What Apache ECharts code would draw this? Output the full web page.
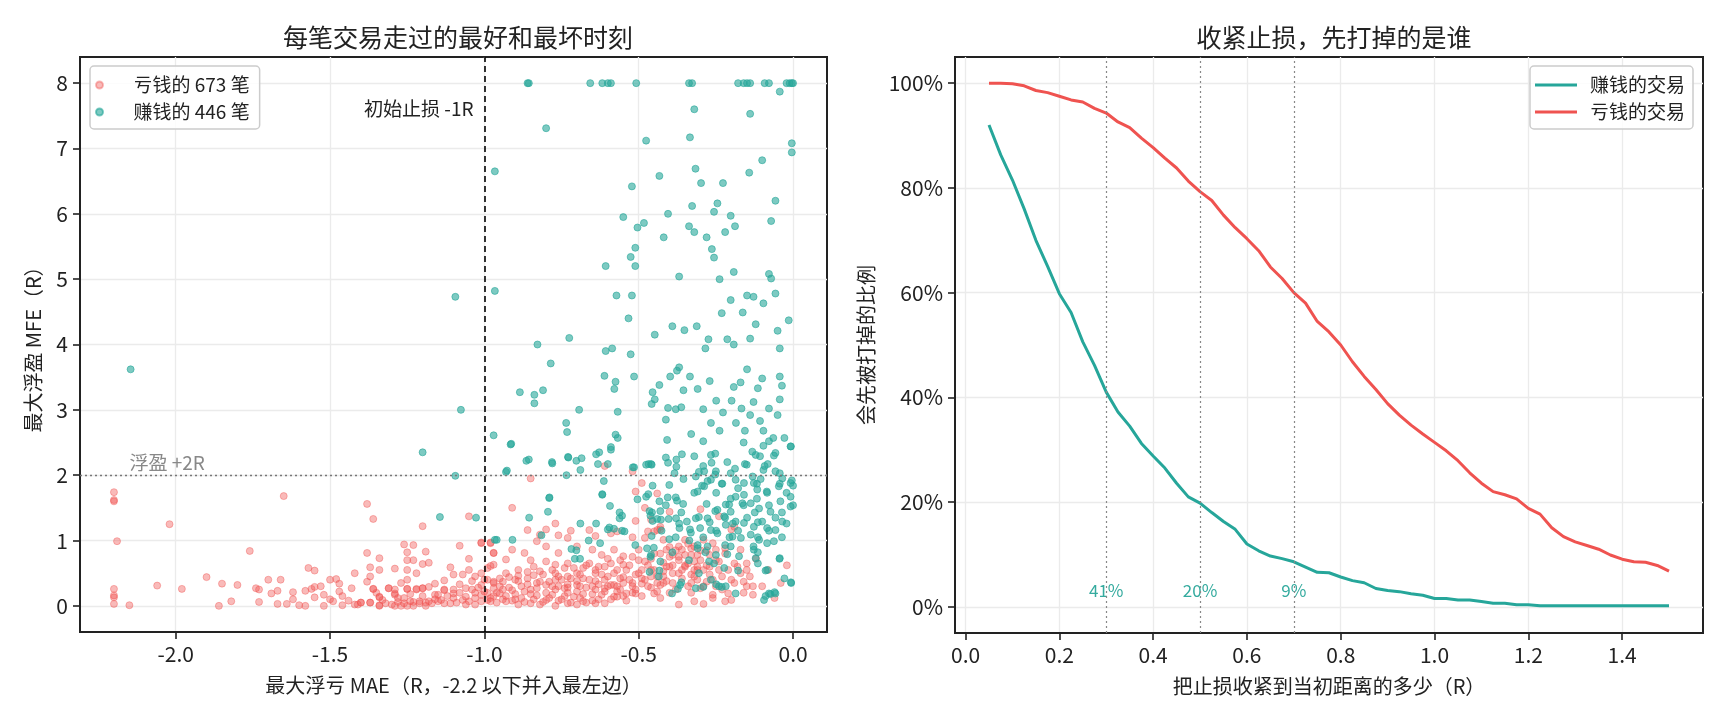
<!DOCTYPE html>
<html>
<head>
<meta charset="utf-8">
<script src="https://cdn.jsdelivr.net/npm/echarts@6/dist/echarts.min.js"></script>
<style>
html,body{margin:0;padding:0;background:#fff;}
#c{width:1725px;height:720px;}
</style>
</head>
<body>
<div id="c"></div>
<script>
// ---------- data ----------
const lossCount = 673;
const winCount = 446;

// losing trades: [MAE (R), MFE (R)]
const lossPoints = [
[-2.2,1.74],[-2.2,1.62],[-2.2,1.6],[-2.19,0.99],[-2.2,0.26],[-2.2,0.13],[-2.2,0.03],[-2.2,0.16],[-2.15,0.01],[-2.02,1.25],[-2.06,0.31],[-1.98,0.26],[-1.9,0.44],[-1.85,0.34],[-1.86,0.0],[-1.82,0.07],[-1.8,0.32],[-1.76,0.84],[-1.74,0.27],[-1.73,0.25],[-1.73,0.06],[-1.7,0.4],[-1.69,0.19],[-1.67,0.23],[-1.66,0.4],[-1.67,0.03],[-1.65,1.68],[-1.64,0.03],[-1.62,0.21],[-1.6,0.01],[-1.58,0.23],[-1.58,0.0],[-1.57,0.58],[-1.55,0.54],[-1.56,0.26],[-1.55,0.29],[-1.55,0.13],[-1.52,0.17],[-1.52,0.0],[-1.5,0.4],[-1.49,0.07],[-1.48,0.41],[-1.47,0.34],[-1.47,0.22],[-1.46,0.15],[-1.46,0.01],[-1.43,0.27],[-1.42,0.5],[-1.41,0.02],[-1.4,0.05],[-1.38,1.56],[-1.38,0.81],[-1.37,0.59],[-1.37,0.45],[-1.38,0.37],[-1.36,1.33],[-1.36,0.26],[-1.37,0.05],[-1.34,0.73],[-1.34,0.55],[-1.34,0.13],[-1.34,0.01],[-1.31,0.27],[-1.29,0.57],[-1.29,0.19],[-1.29,0.0],[-1.26,0.94],[-1.25,0.82],[-1.25,0.7],[-1.23,0.7],[-1.23,0.93],[-1.2,1.22],[-1.2,0.64],[-1.19,0.83],[-1.18,0.66],[-1.25,0.55],[-1.25,0.4],[-1.22,0.5],[-1.25,0.26],[-1.22,0.26],[-1.2,0.27],[-1.16,0.34],[-1.13,0.39],[-1.11,0.59],[-1.1,0.48],[-1.26,0.12],[-1.23,0.06],[-1.21,0.07],[-1.18,0.07],[-1.15,0.17],[-1.13,0.24],[-1.27,0.0],[-1.23,0.0],[-1.19,0.0],[-1.14,0.09],[-1.1,0.19],
[-1.05,1.37],[-1.08,0.92],[-1.05,0.72],[-1.05,0.55],[-1.07,0.48],[-1.03,0.45],[-1.01,0.96],[-1.01,0.5],[-1.0,0.4],[-1.01,0.32],[-0.98,0.96],[-0.97,0.81],[-0.98,0.61],[-0.99,0.58],[-0.97,0.37],[-0.97,0.27],[-1.1,0.25],[-1.08,0.2],[-1.06,0.27],[-1.04,0.25],[-1.03,0.2],[-1.01,0.17],[-1.1,0.12],[-1.07,0.09],[-1.05,0.07],[-1.03,0.12],[-1.01,0.07],[-0.98,0.07],[-0.96,0.2],[-1.11,0.04],[-1.06,0.02],[-1.03,0.02],[-1.29,0.17],[-1.28,0.12],[-1.26,0.04],[-1.24,0.07],[-1.21,0.04],[-1.19,0.05],[-1.17,0.04],[-1.15,0.07],[-1.3,0.02],[-1.25,0.0],[-1.29,0.25],[-1.27,0.35],[-1.25,0.26],[-1.22,0.25],[-1.2,0.27],[-1.18,0.29],[-1.16,0.17],[-1.13,0.25],[-1.12,0.15],[-1.13,0.04],[-1.42,0.02],[-1.4,0.05],[-1.37,0.05],[-1.34,0.14],[-1.33,0.09],[-1.34,0.0],[-1.31,0.27],[-1.36,0.26],
[-0.61,2.14],[-0.52,2.06],[-0.85,1.95],[-0.49,1.88],[-0.51,1.75],[-0.44,1.72],[-0.91,1.5],[-0.48,1.5],[-0.4,1.44],[-0.3,1.48],[-0.51,1.3],[-0.77,1.26],[-0.8,1.17],[-0.86,1.16],[-0.72,1.15],[-0.66,1.16],[-0.76,1.08],[-0.82,1.09],[-0.73,1.04],[-0.64,1.07],[-0.59,1.11],[-0.57,1.14],[-0.52,1.05],[-0.48,1.04],[-0.45,1.14],[-0.43,1.17],[-0.24,1.37],[-0.2,1.17],[-0.98,0.97],[-1.01,0.97],[-0.91,0.86],[-0.87,0.81],[-0.83,0.99],[-0.8,0.91],[-0.76,0.81],[-0.7,0.91],[-0.65,0.86],[-0.62,0.78],[-0.58,0.86],[-0.55,0.76],[-0.5,0.86],[-0.97,0.81],[-0.97,0.63],[-0.93,0.71],[-0.85,0.7],[-0.8,0.68],[-0.93,0.5],[-0.89,0.55],[-0.84,0.6],[-0.77,0.63],[-0.73,0.65],[-0.68,0.58],[-0.63,0.6],[-0.59,0.65],[-0.55,0.63],[-0.99,0.4],[-0.94,0.37],[-0.9,0.4],[-0.86,0.42],[-0.82,0.37],[-0.77,0.4],[-0.73,0.45],[-0.69,0.48],[-0.64,0.5],[-0.6,0.45],[-0.56,0.42],[-1.0,0.22],[-0.95,0.19],[-0.91,0.24],[-0.87,0.22],[-0.83,0.27],[-0.78,0.3],[-0.74,0.27],[-0.7,0.32],[-0.65,0.3],[-0.61,0.27],[-0.57,0.3],[-0.52,0.35],[-0.99,0.09],[-0.93,0.07],[-0.89,0.02],[-0.85,0.04],[-0.8,0.09],[-0.77,0.0],[-0.73,0.04],[-0.7,0.02],[-0.68,0.07],[-0.64,0.04],[-0.61,0.04],[-0.57,0.14],[-0.54,0.19],[-0.51,0.19],[-0.49,0.34],[-0.45,0.19],[-0.44,0.22],[-0.42,0.35],[-0.39,0.35],[-0.37,0.02],[-0.46,0.55],[-0.42,0.53],[-0.4,0.6],[-0.37,0.7],[-0.36,0.86],[-0.41,0.86],[-0.39,0.78],[-0.35,0.6],[-0.33,0.48],[-0.32,0.45],[-0.31,0.6],[-0.29,0.55],[-0.27,0.78],[-0.26,0.96],[-0.25,0.86],[-0.33,0.78],[-0.31,0.78],[-0.26,0.17],[-0.32,0.07],[-0.29,0.03],[-0.22,0.07],[-0.2,0.09],[-0.21,0.19],[-0.23,0.45],[-0.19,0.65],[-0.16,0.37],[-0.15,0.3],[-0.15,0.65],[-0.15,0.55],[-0.13,0.17],[-0.22,0.88],[-0.17,0.86],[-0.19,1.21],[-0.44,1.16],[-0.47,1.14],[-0.46,1.32],[-0.42,1.01],[-0.37,0.91],[-0.35,1.01],[-0.32,0.91],[-0.29,1.01],[-0.43,1.21],[-0.33,0.35],[-0.3,0.27],[-0.28,0.37],[-0.25,0.3],
[-0.98,0.12],[-0.96,0.05],[-0.95,0.3],[-0.93,0.15],[-0.92,0.44],[-0.9,0.1],[-0.88,0.3],[-0.87,0.06],[-0.86,0.52],[-0.85,0.18],[-0.83,0.35],[-0.82,0.02],[-0.81,0.48],[-0.8,0.2],[-0.79,0.12],[-0.78,0.55],[-0.77,0.25],[-0.76,0.08],[-0.75,0.4],[-0.74,0.15],[-0.73,0.33],[-0.72,0.05],[-0.71,0.58],[-0.7,0.22],[-0.69,0.12],[-0.68,0.42],[-0.67,0.28],[-0.66,0.65],[-0.65,0.18],[-0.64,0.38],[-0.63,0.1],[-0.62,0.48],[-0.61,0.22],[-0.6,0.72],[-0.59,0.32],[-0.58,0.14],[-0.57,0.55],[-0.56,0.25],[-0.55,0.44],[-0.54,0.08],[-0.53,0.62],[-0.52,0.3],[-0.51,0.48],[-0.5,0.7],[-0.49,0.15],[-0.48,0.4],[-0.47,0.62],[-0.46,0.28],[-0.45,0.8],[-0.44,0.45],[-0.43,0.12],[-0.42,0.66],[-0.41,0.38],[-0.4,0.9],[-0.39,0.5],[-0.38,0.25],[-0.37,0.75],[-0.36,0.42],[-0.35,0.62],[-0.34,0.95],[-0.33,0.2],[-0.32,0.68],[-0.31,0.4],[-0.3,0.85],[-0.29,0.3],[-0.28,0.62],[-0.27,0.48],[-0.26,0.12],[-0.25,0.7],[-0.24,0.55],[-0.22,0.8],[-0.2,0.4],[-0.18,0.6],[-0.16,0.2],[-0.14,0.45],[-0.12,0.72],[-0.1,0.3],[-0.08,0.55],[-0.06,0.12],[-0.04,0.35],[-0.02,0.62],
[-0.99,0.2],[-0.97,0.35],[-0.94,0.25],[-0.91,0.08],[-0.89,0.38],[-0.84,0.1],[-0.8,0.32],[-0.76,0.45],[-0.73,0.2],[-0.7,0.38],[-0.67,0.05],[-0.64,0.25],[-0.61,0.4],[-0.58,0.32],[-0.55,0.15],[-0.52,0.2],[-0.49,0.55],[-0.46,0.45],[-0.43,0.32],[-0.4,0.2],[-0.37,0.5],[-0.34,0.3],[-0.31,0.55],
[-0.97,0.15],[-0.95,0.42],[-0.94,0.1],[-0.92,0.28],[-0.9,0.18],[-0.89,0.46],[-0.88,0.12],[-0.86,0.33],[-0.85,0.25],[-0.84,0.47],[-0.83,0.16],[-0.82,0.53],[-0.81,0.06],[-0.79,0.37],[-0.78,0.17],[-0.77,0.5],[-0.76,0.3],[-0.75,0.1],[-0.74,0.58],[-0.73,0.28],[-0.72,0.42],[-0.71,0.14],[-0.7,0.5],[-0.69,0.3],[-0.68,0.18],[-0.67,0.62],[-0.66,0.4],[-0.65,0.08],[-0.64,0.55],[-0.63,0.33],[-0.62,0.17],[-0.61,0.6],[-0.6,0.3],[-0.59,0.1],[-0.58,0.5],[-0.57,0.22],[-0.56,0.7],[-0.55,0.35],[-0.54,0.55],[-0.53,0.4],[-0.52,0.75],[-0.51,0.25],[-0.5,0.5],[-0.49,0.42],[-0.48,0.68],[-0.47,0.3],[-0.46,0.72],[-0.45,0.55],[-0.44,0.35],[-0.43,0.8],[-0.42,0.45],[-0.41,0.6],[-0.4,0.75],[-0.39,0.62],[-0.38,0.85],[-0.36,0.55],[-0.35,0.78],[-0.34,0.65],[-0.33,0.88],[-0.32,0.55],[-0.3,0.7],[-0.28,0.85],[-0.27,0.6],[-0.26,0.4],[-0.24,0.68],[-0.23,0.25],[-0.21,0.55],[-0.19,0.35],[-0.17,0.5],[-0.13,0.3],[-1.08,0.33],[-1.06,0.14],[-1.04,0.38],[-1.02,0.28],[-1.09,0.05],[-1.16,0.1],[-1.2,0.15],[-1.24,0.18],[-1.28,0.06],[-1.32,0.04],[-1.35,0.2],[-1.44,0.08],[-1.5,0.1],[-1.53,0.3],[-1.62,0.1]
];

// winning trades: [MAE (R), MFE (R)]
const winPoints = [
[-0.86,8],[-0.856,8],[-0.657,8],[-0.618,8],[-0.6,8],[-0.59,8],[-0.508,8],[-0.337,8],[-0.327,8],[-0.178,8],[-0.16,8],[-0.149,8],[-0.139,8],[-0.092,8],[-0.078,8],[-0.021,8],[-0.011,8],[-0.004,8],[0,8],
[-0.043,7.87],[-0.32,7.6],[-0.139,7.53],[-0.8,7.31],[-0.476,7.12],[-0.334,7.17],[-0.004,7.08],[-0.004,6.94],[-0.1,6.82],[-0.966,6.65],[-0.316,6.69],[-0.142,6.63],[-0.433,6.58],[-0.298,6.47],[-0.227,6.47],[-0.522,6.42],[-0.057,6.2],[-0.245,6.16],[-0.327,6.12],[-0.405,6.0],[-0.256,6.03],[-0.202,5.97],[-0.55,5.95],[-0.483,5.86],[-0.504,5.79],[-0.337,5.81],[-0.188,5.81],[-0.32,5.72],[-0.071,5.89],[-0.22,5.72],[-0.419,5.64],[-0.28,5.64],[-0.511,5.48],[-0.263,5.46],[-0.256,5.33],[-0.526,5.34],[-0.607,5.2],[-0.511,5.2],[-0.369,5.04],[-0.238,5.0],[-0.192,5.11],[-0.078,5.08],[-0.071,5.01],
[-1.094,4.73],[-0.966,4.82],[-0.572,4.75],[-0.522,4.75],[-0.149,4.75],[-0.128,4.73],[-0.057,4.78],[-0.202,4.68],[-0.096,4.63],[-0.533,4.4],[-0.231,4.48],[-0.163,4.49],[-0.014,4.37],[-0.391,4.28],[-0.352,4.22],[-0.312,4.28],[-0.121,4.31],[-0.448,4.15],[-0.05,4.21],[-0.274,4.08],[-0.213,4.08],[-0.139,4.09],[-0.725,4.1],[-0.828,4.0],[-0.586,3.94],[-0.284,3.94],[-0.192,4.0],[-0.043,3.94],[-0.607,3.9],[-0.526,3.85],[-0.785,3.71],[-0.369,3.65],[-0.376,3.6],[-0.149,3.62],[-2.146,3.62],[-0.611,3.52],[-0.515,3.51],[-0.398,3.51],[-0.334,3.51],[-0.575,3.43],[-0.433,3.38],[-0.27,3.44],[-0.17,3.42],[-0.1,3.48],[-0.043,3.51],[-0.192,3.35],[-0.114,3.33],[-0.036,3.37],[-0.579,3.32],[-0.455,3.27],[-0.355,3.3],[-0.309,3.32],[-0.885,3.27],[-0.81,3.3],[-0.448,3.16],[-0.838,3.23],[-0.249,3.14],[-0.199,3.14],[-0.128,3.12],[-0.043,3.16],[-0.838,3.1],[-0.458,3.09],[-0.362,3.04],[-0.38,3.01],[-0.405,3.03],[-1.076,3.0],[-0.693,3.0],[-0.568,2.97],[-0.291,3.01],[-0.167,3.02],[-0.078,3.02],[-0.227,2.96],[-0.139,2.92],[-0.05,2.92],[-0.412,2.85],[-0.107,2.83],[-0.735,2.8],[-0.266,2.8],[-0.185,2.8],[-0.732,2.66],[-0.33,2.63],[-0.238,2.68],[-0.156,2.68],[-0.096,2.68],[-0.97,2.61],[-0.575,2.62],[-0.568,2.57],[-0.064,2.57],[-0.028,2.57],[-0.408,2.54],[-0.291,2.52],[-0.16,2.5],[-0.078,2.52],[-0.913,2.48],[-0.007,2.44],[-0.59,2.43],[-0.096,2.45],[-0.628,2.35],[-1.2,2.35],[-0.252,2.33],[-0.121,2.31],[-0.057,2.34],[-0.728,2.27],[-0.685,2.26],[-0.412,2.27],[-0.32,2.29],[-0.781,2.2],[-0.856,2.24],[-0.6,2.17],[-0.476,2.16],[-0.458,2.16],[-0.405,2.19],[-0.291,2.14],[-0.213,2.2],[-0.156,2.17],[-0.082,2.17],[-0.515,2.12],[-0.188,2.1],[-0.096,2.08],[-0.305,2.05],[-0.384,2.03],[-0.927,2.07],[-1.094,1.99],[-0.252,2.01],[-0.131,1.98],[-0.043,2.03],
[-0.004,1.92],[-0.355,1.94],[-0.277,1.91],[-0.231,1.87],[-0.117,1.87],[-0.043,1.87],[0,1.84],[-0.455,1.84],[-0.401,1.85],[-0.295,1.84],[-0.178,1.8],[-0.085,1.75],[-0.021,1.73],[-0.32,1.73],[-0.249,1.73],[-0.618,1.71],[-0.469,1.71],[-0.789,1.66],[-0.504,1.63],[-0.38,1.66],[-0.202,1.64],[-0.117,1.64],[0,1.54],[-0.412,1.54],[-0.28,1.56],[-0.16,1.54],[-0.078,1.54],[-0.465,1.45],[-0.362,1.43],[-0.252,1.45],[-0.124,1.43],[-0.036,1.43],[-0.554,1.38],[-0.462,1.38],[-0.44,1.33],[-0.305,1.36],[-0.22,1.35],[-0.149,1.35],[-0.057,1.35],[-1.144,1.36],[-1.027,1.35],[-0.369,1.26],[-0.27,1.28],[-0.195,1.26],[-0.114,1.28],[-0.021,1.26],[-0.6,1.17],[-0.554,1.15],[-0.426,1.15],[-0.334,1.17],[-0.249,1.15],[-0.178,1.15],[-0.078,1.15],[-0.966,1.01],[-0.909,1.01],[-0.458,1.07],[-0.38,1.05],[-0.291,1.05],[-0.206,1.05],[-0.114,1.05],[-0.036,1.05],[-0.625,0.96],[-0.511,0.93],[-0.451,0.89],[-0.309,0.93],[-0.22,0.93],[-0.128,0.91],[-0.391,0.82],[-0.284,0.82],[-0.213,0.79],[-0.114,0.82],[-0.462,0.75],[-0.337,0.7],[-0.043,0.73],[-0.256,0.65],[-0.114,0.65],[-0.433,0.54],[-0.305,0.5],[-0.178,0.54],[-0.089,0.54],[-0.362,0.36],[-0.249,0.33],[-0.231,0.29],[-0.007,0.36],[-0.078,0.19],[-0.06,0.21],[-0.089,0.15],[-0.291,0.29],[-0.373,0.26],
[-0.915,2.47],[-0.864,2.22],[-0.78,2.18],[-0.729,2.28],[-0.702,2.22],[-0.689,2.08],[-0.93,2.05],[-0.734,2.0],[-0.638,2.32],[-0.632,2.17],[-0.613,1.91],[-0.618,1.7],[-0.593,1.53],[-0.562,1.43],[-0.562,1.34],[-0.79,1.65],[-0.794,1.44],[-0.855,1.35],[-0.96,1.01],[-0.815,1.08],[-0.689,1.26],[-0.638,1.26],[-0.662,1.0],[-0.718,0.87],[-0.702,0.85],[-0.707,0.72],[-0.69,0.72],[-0.595,1.2],[-0.58,1.18],[-0.546,1.14],[-0.59,2.39],[-0.519,2.12],[-0.468,2.17],[-0.46,2.17],[-0.378,2.24],[-0.378,2.13],[-0.36,2.32],
[-0.476,1.67],[-0.433,1.6],[-0.406,1.66],[-0.376,1.61],[-0.356,1.56],[-0.457,1.43],[-0.43,1.45],[-0.455,1.3],[-0.428,1.32],[-0.403,1.33],[-0.379,1.34],[-0.368,1.19],[-0.344,1.29],[-0.315,1.34],[-0.277,1.34],[-0.331,1.12],[-0.301,1.19],[-0.266,1.16],[-0.245,1.11],[-0.223,1.37],[-0.202,1.44],[-0.218,1.55],[-0.245,1.47],[-0.309,1.75],[-0.288,1.83],[-0.266,1.93],[-0.288,2.06],[-0.25,2.06],[-0.229,1.87],[-0.186,1.93],[-0.159,1.88],[-0.127,1.88],[-0.105,1.94],[-0.057,2.06],[-0.035,1.95],[-0.008,1.88],[-0.046,1.83],[-0.084,1.73],[-0.116,1.78],[-0.159,1.7],[-0.186,1.67],[-0.207,1.55],[-0.164,1.57],[-0.137,1.57],[-0.11,1.49],[-0.073,1.44],[-0.041,1.6],[-0.008,1.67],[-0.008,1.52],[-0.035,1.29],[-0.057,1.16],[-0.084,1.19],[-0.1,1.29],[-0.127,1.21],[-0.159,1.27],[-0.186,1.29],[-0.218,1.24],[-0.196,1.06],[-0.169,1.04],[-0.137,1.09],[-0.11,1.01],[-0.084,0.96],[-0.062,0.99],[-0.127,0.86],[-0.121,0.73],[-0.175,0.76],[-0.202,0.91],[-0.25,0.78],[-0.272,0.68],[-0.223,0.58],[-0.266,0.4],[-0.24,0.3],[-0.218,0.3],[-0.186,0.19],[-0.094,0.09],[-0.073,0.18],[-0.057,0.19],[-0.028,0.42],[-0.006,0.35],[-0.044,0.72],[-0.084,0.55],[-0.315,0.27],[-0.366,0.32],[-0.392,0.19],[-0.435,0.45],[-0.465,0.52],[-0.46,0.78],[-0.473,0.88],[-0.43,0.68],[-0.401,1.02],[-0.336,1.0],[-0.309,0.88],[-0.277,0.91],[-0.315,1.98],[-0.202,2.03],[-0.15,2.16],[-0.132,2.36],[-0.107,2.29],[-0.092,2.14],[-0.062,2.3],[-0.008,2.44],[-0.266,2.31],[-0.264,2.19]
];

// right panel: stop tightened to this fraction of original distance (R)
const tightenR = [0.05,0.075,0.1,0.125,0.15,0.175,0.2,0.225,0.25,0.275,0.3,0.325,0.35,0.375,0.4,0.425,0.45,0.475,0.5,0.525,0.55,0.575,0.6,0.625,0.65,0.675,0.7,0.725,0.75,0.775,0.8,0.825,0.85,0.875,0.9,0.925,0.95,0.975,1.0,1.025,1.05,1.075,1.1,1.125,1.15,1.175,1.2,1.225,1.25,1.275,1.3,1.325,1.35,1.375,1.4,1.425,1.45,1.475,1.5];
const winStopped = [0.92,0.863,0.815,0.76,0.7,0.65,0.598,0.562,0.506,0.461,0.41,0.372,0.345,0.312,0.288,0.265,0.236,0.21,0.198,0.18,0.163,0.148,0.12,0.107,0.097,0.092,0.086,0.076,0.066,0.065,0.057,0.05,0.046,0.035,0.031,0.029,0.025,0.022,0.016,0.016,0.013,0.013,0.01,0.007,0.007,0.004,0.004,0.002,0.002,0.002,0.002,0.002,0.002,0.002,0.002,0.002,0.002,0.002,0.002];
const lossStopped = [1.0,1.0,0.999,0.995,0.986,0.982,0.975,0.968,0.964,0.952,0.943,0.926,0.915,0.895,0.877,0.857,0.838,0.813,0.793,0.776,0.748,0.724,0.703,0.68,0.649,0.627,0.6,0.58,0.545,0.525,0.5,0.468,0.44,0.415,0.388,0.366,0.347,0.33,0.314,0.298,0.279,0.256,0.236,0.22,0.214,0.206,0.188,0.177,0.151,0.134,0.124,0.117,0.11,0.099,0.091,0.086,0.085,0.079,0.068];
const markStops = [0.3, 0.5, 0.7];

// tick labels
const leftXTicks = [-2.0,-1.5,-1.0,-0.5,0.0];
const leftYTicks = [0,1,2,3,4,5,6,7,8];
const rightXTicks = [0.0,0.2,0.4,0.6,0.8,1.0,1.2,1.4];
const rightYTicks = [0,0.2,0.4,0.6,0.8,1.0];

// ---------- chart ----------
const FONT = '"Noto Sans CJK JP","Noto Sans CJK SC","Noto Sans",sans-serif';
const INK = '#222222';
const RED = '#ef5350';
const TEAL = '#26a69a';

const chart = echarts.init(document.getElementById('c'), null, {renderer: 'canvas'});

function axisCommon(ticks, fmt) {
  return {
    type: 'value',
    axisLine: {show: true, onZero: false, lineStyle: {color: INK, width: 2}},
    axisTick: {show: true, length: 7, inside: false, customValues: ticks, lineStyle: {color: INK, width: 1.6}},
    axisLabel: {customValues: ticks, formatter: fmt, fontSize: 21, color: INK, fontFamily: FONT, margin: 12},
    splitLine: {show: true, lineStyle: {color: '#ebebeb', width: 1.3}},
    nameLocation: 'middle',
    nameTextStyle: {fontSize: 20, color: INK, fontFamily: FONT}
  };
}

const winSeriesName = '赚钱的 ' + winCount + ' 笔';
const lossSeriesName = '亏钱的 ' + lossCount + ' 笔';

const option = {
  animation: false,
  backgroundColor: '#ffffff',
  textStyle: {fontFamily: FONT},
  title: [
    {text: '每笔交易走过的最好和最坏时刻', left: 453, top: 20, textAlign: 'center',
     textStyle: {fontSize: 25, fontWeight: 'normal', color: INK, fontFamily: FONT}},
    {text: '收紧止损，先打掉的是谁', left: 1329, top: 20, textAlign: 'center',
     textStyle: {fontSize: 25, fontWeight: 'normal', color: INK, fontFamily: FONT}}
  ],
  legend: [
    {data: [lossSeriesName, winSeriesName], orient: 'vertical', left: 90, top: 66,
     icon: 'circle', itemWidth: 42, itemHeight: 7, itemGap: 7, padding: [9, 10, 7, 5],
     borderColor: '#cccccc', borderWidth: 1.5, borderRadius: 4, backgroundColor: 'rgba(255,255,255,0.85)',
     selectedMode: false,
     textStyle: {fontSize: 19, color: INK, fontFamily: FONT, lineHeight: 20, padding: [0, 0, 0, 8]}},
    {data: ['赚钱的交易', '亏钱的交易'], orient: 'vertical', right: 32, top: 66,
     icon: 'rect', itemWidth: 42, itemHeight: 3, itemGap: 7, padding: [9, 8, 7, 5],
     borderColor: '#cccccc', borderWidth: 1.5, borderRadius: 4, backgroundColor: 'rgba(255,255,255,0.85)',
     selectedMode: false,
     textStyle: {fontSize: 19, color: INK, fontFamily: FONT, lineHeight: 20, padding: [0, 0, 0, 8]}}
  ],
  grid: [
    {left: 80, top: 57, width: 747, height: 575, show: true, borderColor: INK, borderWidth: 2, backgroundColor: 'transparent'},
    {left: 955, top: 57, width: 748, height: 576, show: true, borderColor: INK, borderWidth: 2, backgroundColor: 'transparent'}
  ],
  xAxis: [
    Object.assign(axisCommon(leftXTicks, v => v.toFixed(1)), {
      gridIndex: 0, min: -2.31, max: 0.11,
      name: '最大浮亏 MAE（R，-2.2 以下并入最左边）', nameGap: 43}),
    Object.assign(axisCommon(rightXTicks, v => v.toFixed(1)), {
      gridIndex: 1, min: -0.0225, max: 1.5725,
      name: '把止损收紧到当初距离的多少（R）', nameGap: 43})
  ],
  yAxis: [
    Object.assign(axisCommon(leftYTicks, v => String(v)), {
      gridIndex: 0, min: -0.4, max: 8.4,
      name: '最大浮盈 MFE（R）', nameGap: 37}),
    Object.assign(axisCommon(rightYTicks, v => Math.round(v * 100) + '%'), {
      gridIndex: 1, min: -0.05, max: 1.05,
      name: '会先被打掉的比例', nameGap: 79})
  ],
  series: [
    {
      name: lossSeriesName, type: 'scatter', xAxisIndex: 0, yAxisIndex: 0,
      data: lossPoints, symbolSize: 7,
      itemStyle: {color: RED, opacity: 0.4, borderColor: RED, borderWidth: 1},
      emphasis: {disabled: true},
      markLine: {
        silent: true, symbol: ['none', 'none'], animation: false,
        label: {show: false},
        data: [
          {xAxis: -1.0, lineStyle: {color: '#000000', type: [6, 4], width: 1.6}},
          {yAxis: 2.0, lineStyle: {color: '#777777', type: [2, 3], width: 1.3}}
        ]
      }
    },
    {
      name: winSeriesName, type: 'scatter', xAxisIndex: 0, yAxisIndex: 0,
      data: winPoints, symbolSize: 7,
      itemStyle: {color: TEAL, opacity: 0.6, borderColor: TEAL, borderWidth: 1},
      emphasis: {disabled: true}
    },
    {
      name: '赚钱的交易', type: 'line', xAxisIndex: 1, yAxisIndex: 1,
      data: tightenR.map((x, i) => [x, winStopped[i]]),
      symbol: 'none', lineStyle: {color: TEAL, width: 3}, itemStyle: {color: TEAL},
      emphasis: {disabled: true}, z: 3,
      markLine: {
        silent: true, symbol: ['none', 'none'], animation: false,
        label: {show: false},
        lineStyle: {color: '#888888', type: [2, 3], width: 1.2},
        data: markStops.map(v => ({xAxis: v}))
      }
    },
    {
      name: '亏钱的交易', type: 'line', xAxisIndex: 1, yAxisIndex: 1,
      data: tightenR.map((x, i) => [x, lossStopped[i]]),
      symbol: 'none', lineStyle: {color: RED, width: 3}, itemStyle: {color: RED},
      emphasis: {disabled: true}, z: 3
    }
  ]
};

chart.setOption(option);

// annotations placed through the axes' own scales
const g = [];
const p1 = chart.convertToPixel({gridIndex: 0}, [-1.035, 7.6]);
g.push({type: 'text', x: p1[0], y: p1[1], style: {text: '初始止损 -1R', fill: INK, font: '19px ' + FONT, textAlign: 'right', textVerticalAlign: 'middle'}});
const p2 = chart.convertToPixel({gridIndex: 0}, [-2.15, 2.05]);
g.push({type: 'text', x: p2[0], y: p2[1], style: {text: '浮盈 +2R', fill: '#888888', font: '19px ' + FONT, textAlign: 'left', textVerticalAlign: 'bottom'}});
markStops.forEach(v => {
  const i = tightenR.indexOf(v);
  const pct = Math.round(winStopped[i] * 100) + '%';
  const p = chart.convertToPixel({gridIndex: 1}, [v, 0.032]);
  g.push({type: 'text', x: p[0], y: p[1], style: {text: pct, fill: '#35ab9f', font: '17px ' + FONT, textAlign: 'center', textVerticalAlign: 'middle'}});
});
chart.setOption({graphic: g});
</script>
</body>
</html>
